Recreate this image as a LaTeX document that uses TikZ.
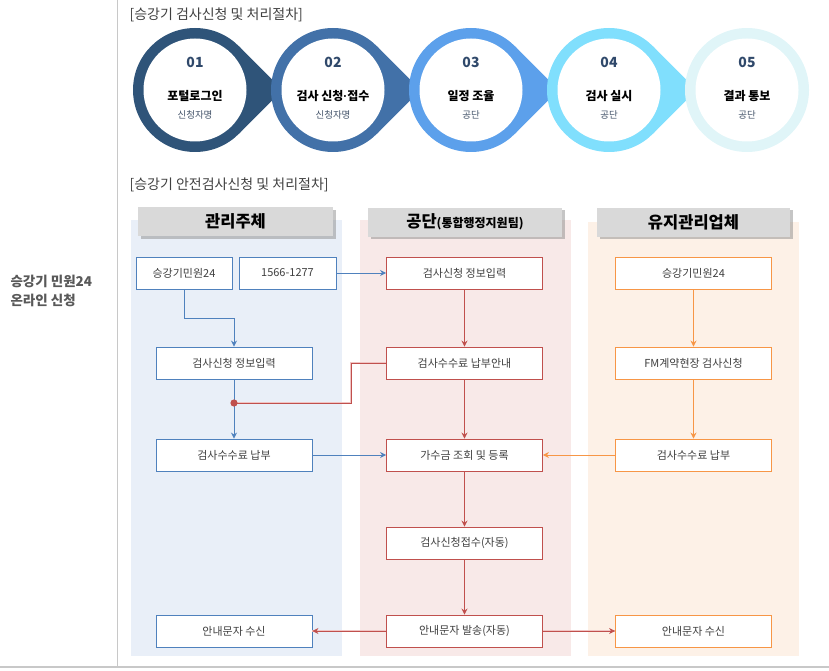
\documentclass[tikz,border=0pt]{standalone}
\usepackage{fontspec}
\setmainfont{Noto Sans CJK KR}
\newfontfamily\dotfont{Liberation Sans}
\usepackage{tikz}
\usetikzlibrary{shadows,arrows.meta}

\definecolor{laneBlue}{HTML}{E9EFF8}
\definecolor{laneRed}{HTML}{F8E9E8}
\definecolor{laneOrange}{HTML}{FDF1E7}
\definecolor{lineBlue}{HTML}{4F81BD}
\definecolor{lineRed}{HTML}{C0504D}
\definecolor{lineOrange}{HTML}{F79646}
\definecolor{glowRed}{HTML}{F0C4C3}
\definecolor{headGray}{HTML}{D9D9D9}
\definecolor{textGray}{HTML}{404040}
\definecolor{sideGray}{HTML}{595959}
\definecolor{sepGray}{HTML}{C8C8C8}
\definecolor{stepOne}{HTML}{2F5479}
\definecolor{stepTwo}{HTML}{4271A8}
\definecolor{stepThree}{HTML}{5CA0EB}
\definecolor{stepFour}{HTML}{80DFFD}
\definecolor{stepFive}{HTML}{E0F5F8}
\definecolor{numBlue}{HTML}{30496B}
\definecolor{subBlue}{HTML}{44546A}

\tikzset{
  laneHead/.style={fill=headGray, minimum width=194pt, minimum height=29pt, inner sep=0pt,
    drop shadow={shadow xshift=2.5pt, shadow yshift=-2.5pt, fill=black!45}, text=black,
    font=\bfseries\fontsize{16.5}{18}\selectfont},
  procBox/.style={draw, fill=white, line width=0.9pt, minimum width=156pt, minimum height=32pt,
    inner sep=0pt, text=textGray, font=\fontsize{11}{13}\selectfont},
  flowArrow/.style={line width=0.9pt, -{Stealth[length=6pt,width=6pt]}},
  redGlow/.style={line width=0.8pt, draw=lineRed,
    preaction={draw=glowRed, line width=2.6pt, -}},
  titleText/.style={anchor=west, text=textGray, font=\fontsize{14}{16}\selectfont},
  stepNum/.style={text=numBlue, font=\bfseries\fontsize{14}{16}\selectfont},
  stepName/.style={text=black, font=\bfseries\fontsize{12}{14}\selectfont},
  stepWho/.style={text=subBlue, font=\fontsize{9.5}{11}\selectfont}
}

\begin{document}
\begin{tikzpicture}[x=1pt, y=-1pt]
  \useasboundingbox (0,0) rectangle (829,671);

  % 구분선
  \draw[sepGray, line width=1pt] (117,0) -- (117,667);
  \draw[sepGray, line width=1.5pt] (0,667) -- (829,667);

  % 왼쪽 제목
  \node[anchor=west, align=left, text=sideGray, font=\bfseries\fontsize{13.5}{19}\selectfont]
    (sideTitle) at (7,291) {승강기 민원24\\온라인 신청};

  % 위쪽 단계 (원)
  \node[titleText] (stepTitle) at (126,15) {[승강기 검사신청 및 처리절차]};
  \foreach \cx/\col/\num/\name/\who in {
      195/stepOne/01/포털로그인/신청자명,
      333/stepTwo/02/검사 신청{\dotfont ·}접수/신청자명,
      471/stepThree/03/일정 조율/공단,
      609/stepFour/04/검사 실시/공단,
      747/stepFive/05/결과 통보/공단}{
    \ifnum\num<5
      \fill[\col] (\cx,90) -- ++(43.8,-43.8) -- ++(43.8,43.8) -- ++(-43.8,43.8) -- cycle;
    \fi
    \fill[\col] (\cx,90) circle (62);
    \fill[white] (\cx,90) circle (51.5);
    \node[stepNum] (num\num) at (\cx,62) {\num};
    \node[stepName] (name\num) at (\cx,96) {\name};
    \node[stepWho] (who\num) at (\cx,115) {\who};
  }

  % 아래쪽 흐름도 (3개 레인)
  \node[titleText] (laneTitle) at (126,185) {[승강기 안전검사신청 및 처리절차]};
  \fill[laneBlue] (131,220) rectangle (342,656);
  \fill[laneRed] (360,220) rectangle (571,656);
  \fill[laneOrange] (588,222) rectangle (799,656);

  \node[laneHead, minimum width=195pt] (headMgr) at (235.5,221.5) {관리주체};
  \node[laneHead] (headKoelsa) at (465,222) {공단{\fontsize{12}{13}\selectfont(통합행정지원팀)}};
  \node[laneHead, minimum width=193pt] (headFm) at (693.5,222) {유지관리업체};

  % 관리주체
  \node[procBox, draw=lineBlue, minimum width=96pt] (mgrMinwon) at (184,273) {승강기민원24};
  \node[procBox, draw=lineBlue, minimum width=97pt] (mgrPhone) at (287.5,273) {1566-1277};
  \node[procBox, draw=lineBlue] (mgrInput) at (234,363) {검사신청 정보입력};
  \node[procBox, draw=lineBlue] (mgrPay) at (234,455) {검사수수료 납부};
  \node[procBox, draw=lineBlue] (mgrSms) at (234,631) {안내문자 수신};

  % 공단
  \node[procBox, draw=lineRed] (kInput) at (464.5,273) {검사신청 정보입력};
  \node[procBox, draw=lineRed] (kGuide) at (464.5,363) {검사수수료 납부안내};
  \node[procBox, draw=lineRed] (kDeposit) at (464.5,455) {가수금 조회 및 등록};
  \node[procBox, draw=lineRed] (kAccept) at (464.5,543) {검사신청접수(자동)};
  \node[procBox, draw=lineRed] (kSend) at (464.5,631) {안내문자 발송(자동)};

  % 유지관리업체
  \node[procBox, draw=lineOrange] (fmMinwon) at (693.5,273) {승강기민원24};
  \node[procBox, draw=lineOrange] (fmApply) at (693.5,363) {FM계약현장 검사신청};
  \node[procBox, draw=lineOrange] (fmPay) at (693.5,455) {검사수수료 납부};
  \node[procBox, draw=lineOrange] (fmSms) at (693.5,631) {안내문자 수신};

  % 연결선
  \draw[flowArrow, lineBlue] (mgrMinwon.south) -- ++(0,29) -| (mgrInput.north);
  \draw[flowArrow, lineBlue] (mgrPhone.east) -- (kInput.west);
  \draw[flowArrow, lineBlue] (mgrInput.south) -- (mgrPay.north);
  \draw[flowArrow, lineBlue] (mgrPay.east) -- (kDeposit.west);

  \coordinate (feeDot) at (234,403);
  \draw[redGlow] (feeDot) -- ++(117,0) |- (kGuide.west);
  \fill[lineRed] (feeDot) circle (3.6);

  \draw[flowArrow, lineRed] (kInput.south) -- (kGuide.north);
  \draw[flowArrow, lineRed] (kGuide.south) -- (kDeposit.north);
  \draw[flowArrow, lineRed] (kDeposit.south) -- (kAccept.north);
  \draw[flowArrow, lineRed] (kAccept.south) -- (kSend.north);
  \draw[flowArrow, redGlow] (kSend.west) -- (mgrSms.east);
  \draw[flowArrow, redGlow] (kSend.east) -- (fmSms.west);

  \draw[flowArrow, lineOrange] (fmMinwon.south) -- (fmApply.north);
  \draw[flowArrow, lineOrange] (fmApply.south) -- (fmPay.north);
  \draw[flowArrow, lineOrange] (fmPay.west) -- (kDeposit.east);
\end{tikzpicture}
\end{document}
